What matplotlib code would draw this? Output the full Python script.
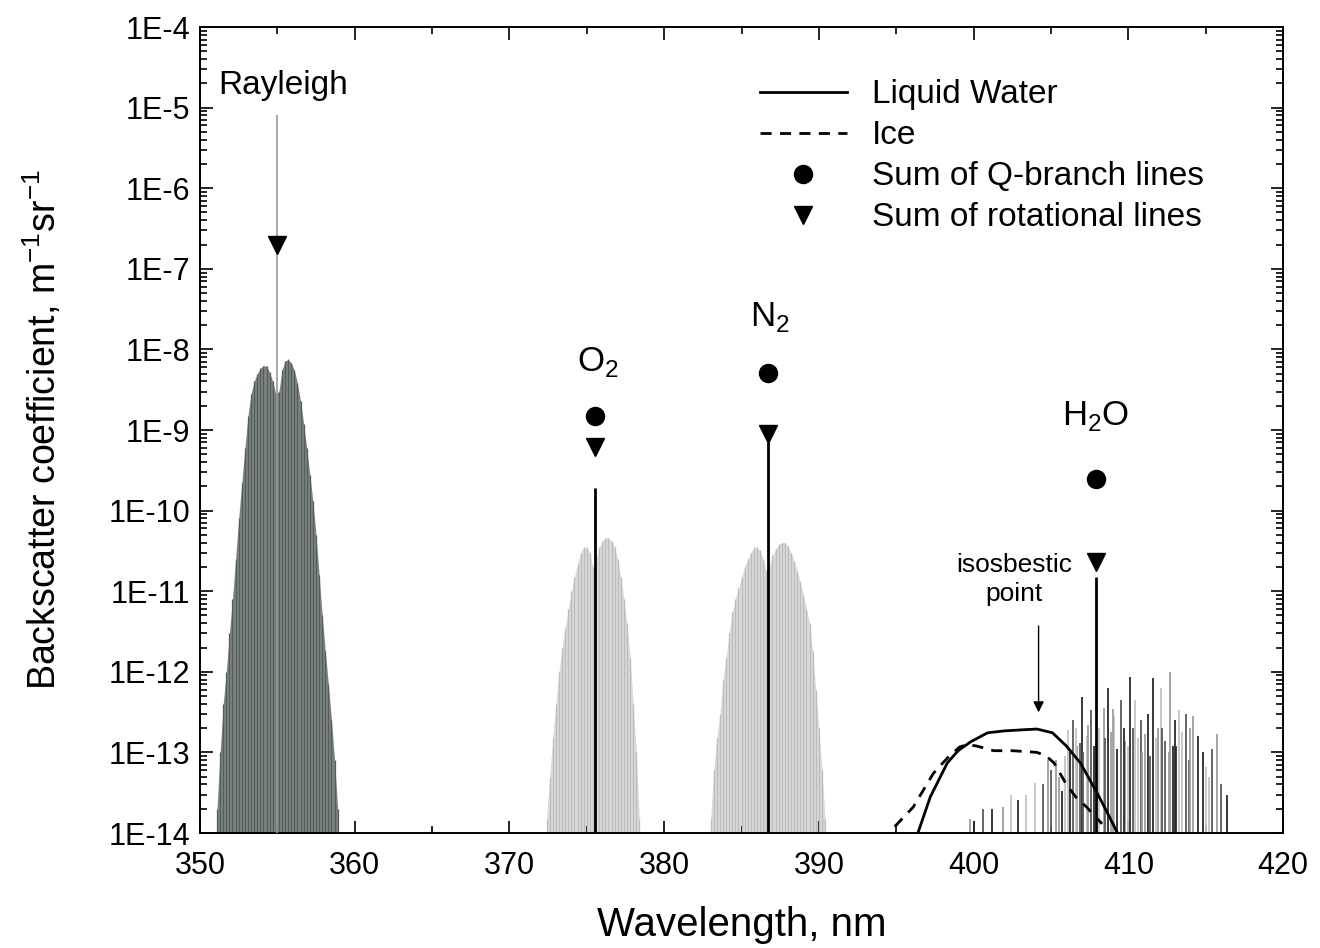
import numpy as np
import matplotlib
matplotlib.use("Agg")
import matplotlib.pyplot as plt
from matplotlib.ticker import MultipleLocator, FuncFormatter, LogLocator, NullFormatter

plt.rcParams['font.family'] = ['Liberation Sans', 'DejaVu Sans']
plt.rcParams['mathtext.fontset'] = 'custom'
plt.rcParams['mathtext.rm'] = 'Liberation Sans'

# rotational Raman lines, Rayleigh band (nm, m-1 sr-1)
ray_wl = [351.1, 351.3, 351.5, 351.7, 351.9, 352.1, 352.3, 352.5, 352.7, 352.9,
          353.1, 353.3, 353.5, 353.7, 353.9, 354.1, 354.3, 354.5, 354.7, 354.9,
          355.1, 355.3, 355.5, 355.7, 355.9, 356.1, 356.3, 356.5, 356.7, 356.9,
          357.1, 357.3, 357.5, 357.7, 357.9, 358.1, 358.3, 358.5, 358.7, 358.9]
ray_val = [2e-14, 1e-13, 4e-13, 1e-12, 3e-12, 8e-12, 2.5e-11, 8e-11, 2.2e-10, 6e-10,
           1.5e-9, 2.8e-9, 4e-9, 5e-9, 5.8e-9, 6.3e-9, 6.2e-9, 5.2e-9, 4e-9, 2.8e-9,
           3e-9, 5.5e-9, 7.2e-9, 7.5e-9, 6.8e-9, 5.5e-9, 3.8e-9, 2.3e-9, 1.2e-9, 6e-10,
           2.8e-10, 1.3e-10, 5e-11, 1.6e-11, 5e-12, 1.8e-12, 7e-13, 2.5e-13, 8e-14, 2e-14]

# O2 vibrational-rotational band
o2_wl = [372.4, 372.6, 372.8, 373.0, 373.2, 373.4, 373.6, 373.8, 374.0, 374.2,
         374.4, 374.6, 374.8, 375.0, 375.2, 375.4, 375.6, 375.8, 376.0, 376.2,
         376.4, 376.6, 376.8, 377.0, 377.2, 377.4, 377.6, 377.8, 378.0, 378.2, 378.4]
o2_val = [1.5e-14, 5e-14, 1.5e-13, 4e-13, 1e-12, 2e-12, 3.5e-12, 6e-12, 1e-11, 1.5e-11,
          2.2e-11, 3e-11, 3.5e-11, 3.5e-11, 3e-11, 2e-11, 2.5e-11, 3.5e-11, 4.2e-11, 4.6e-11,
          4.6e-11, 4.2e-11, 3.5e-11, 2.5e-11, 1.5e-11, 8e-12, 4e-12, 1.5e-12, 4e-13, 1e-13, 1.5e-14]

# N2 vibrational-rotational band
n2_wl = [383.0, 383.2, 383.4, 383.6, 383.8, 384.0, 384.2, 384.4, 384.6, 384.8,
         385.0, 385.2, 385.4, 385.6, 385.8, 386.0, 386.2, 386.4, 386.6, 386.8,
         387.0, 387.2, 387.4, 387.6, 387.8, 388.0, 388.2, 388.4, 388.6, 388.8,
         389.0, 389.2, 389.4, 389.6, 389.8, 390.0, 390.2, 390.4]
n2_val = [1.5e-14, 6e-14, 1.5e-13, 3e-13, 8e-13, 1.5e-12, 3e-12, 5.5e-12, 8e-12, 1.1e-11,
          1.5e-11, 2e-11, 2.5e-11, 3e-11, 3.5e-11, 3.5e-11, 3.2e-11, 2.5e-11, 1.8e-11, 2e-11,
          2.8e-11, 3.3e-11, 3.8e-11, 4e-11, 4e-11, 3.6e-11, 3e-11, 2.4e-11, 1.8e-11, 1.3e-11,
          9e-12, 6e-12, 4e-12, 1.8e-12, 6e-13, 2e-13, 6e-14, 1.5e-14]

# H2O rotational lines
h2o_wl = [401.9, 402.9, 404.0, 405.0, 405.3, 405.7, 406.1, 406.4, 406.7, 407.0,
          407.3, 407.6, 408.4, 408.7, 409.1, 409.5, 409.8, 410.1, 410.4, 410.8,
          411.1, 411.6, 412.1, 412.4, 412.7, 413.0, 413.3, 413.7, 414.2, 414.5,
          415.0, 415.4, 415.7, 416.4, 405.9, 406.9, 408.9, 409.3, 410.6, 411.4,
          411.9, 412.9, 403.4, 400.6, 405.5, 406.2, 406.6, 407.1, 407.4, 407.8,
          408.1, 408.5, 409.0, 409.7, 410.0, 410.3, 410.9, 411.3, 411.8, 412.2,
          412.6, 413.1, 413.5, 413.9, 414.0, 414.8, 415.2, 416.0, 399.8, 401.2,
          402.4, 404.5, 404.8]
h2o_val = [2.1e-14, 2.6e-14, 4.2e-14, 6e-14, 8e-14, 3.3e-14, 1.9e-13, 2.5e-13, 1.2e-13, 4.9e-13,
           1.6e-13, 3.4e-13, 3.6e-13, 6.3e-13, 2.8e-13, 4.5e-13, 1.4e-13, 8.7e-13, 4.5e-13, 2.5e-13,
           1.7e-13, 8.3e-13, 6.3e-13, 1.4e-13, 1e-12, 2.5e-13, 3.4e-13, 3e-13, 2.8e-13, 1.6e-13,
           6.6e-14, 1.1e-13, 1.7e-13, 3e-14, 9e-14, 1.3e-13, 1.8e-13, 1.1e-13, 1.5e-13, 9e-14,
           2e-13, 1.2e-13, 3e-14, 2e-14, 5e-14, 1e-13, 2e-13, 1e-13, 2.2e-13, 1.2e-13,
           2e-13, 1.5e-13, 3.5e-13, 2e-13, 1.2e-13, 2e-13, 1e-13, 3e-13, 1.5e-13, 2e-13,
           1e-13, 1.2e-13, 1.8e-13, 8e-14, 2e-13, 1e-13, 5e-14, 4e-14, 1.5e-14, 2e-14,
           3e-14, 4e-14, 8e-14]

# Q-branch lines
q_wl = [375.5, 386.7, 407.9]
q_val = [1.9e-10, 7e-10, 1.5e-11]
q_sum = [1.5e-9, 5.1e-9, 2.5e-10]

# sums of rotational lines
rot_wl = [355.0, 375.5, 386.7, 407.9]
rot_sum = [2e-7, 6.2e-10, 9e-10, 2.3e-11]

# Rayleigh line
ray_line_top = 8e-6

# condensed water
liq_wl = [396.4, 397.2, 398.3, 399.0, 399.8, 400.9, 402.0, 403.0, 404.1, 405.1,
          406.0, 406.9, 408.0, 408.7, 409.3]
liq_val = [1e-14, 2.8e-14, 7.4e-14, 1.05e-13, 1.35e-13, 1.75e-13, 1.85e-13, 1.9e-13, 1.95e-13, 1.75e-13,
           1.2e-13, 7.4e-14, 3.1e-14, 1.7e-14, 1e-14]
ice_wl = [394.9, 396.1, 397.4, 398.3, 399.1, 399.6, 400.2, 401.3, 402.5, 403.5,
          404.1, 404.7, 405.2, 406.0, 406.6, 407.3, 408.3]
ice_val = [1.2e-14, 2.1e-14, 5.5e-14, 8.5e-14, 1.17e-13, 1.25e-13, 1.2e-13, 1.05e-13, 1.05e-13, 1.02e-13,
           1.0e-13, 9e-14, 7.4e-14, 4e-14, 2.8e-14, 2.1e-14, 1.3e-14]

ymin, ymax = 1e-14, 1e-4

fig = plt.figure(figsize=(13.2, 9.48), dpi=100)
ax = fig.add_axes([0.1515, 0.1213, 0.8205, 0.8502])
ax.set_yscale('log')

# bands
ax.fill_between(ray_wl, ymin, ray_val, color='#7b8381', lw=0, zorder=1)
ax.vlines(ray_wl, ymin, ray_val, colors='#555d5c', lw=0.9, zorder=2)
for wl, val in [(o2_wl, o2_val), (n2_wl, n2_val)]:
    ax.fill_between(wl, ymin, val, color='#d9d9d9', lw=0, zorder=1)
    ax.vlines(wl, ymin, val, colors='#bcbcbc', lw=0.9, zorder=2)

shades = ['#9e9e9e', '#2a2a2a', '#c4c4c4', '#5a5a5a']
h2o_cols = [shades[i % 4] for i in range(len(h2o_wl))]
ax.vlines(h2o_wl, ymin, h2o_val, colors=h2o_cols, lw=1.3, zorder=2)

# Rayleigh and Q lines
ax.vlines([rot_wl[0]], ymin, ray_line_top, colors='#9a9a9a', lw=1.2, zorder=3)
ax.vlines(q_wl, ymin, q_val, colors='k', lw=2.0, zorder=3)

ax.plot(liq_wl, liq_val, '-', color='k', lw=2, label='Liquid Water', zorder=4)
ax.plot(ice_wl, ice_val, '--', color='k', lw=2, dashes=(4, 3), label='Ice', zorder=4)
ax.plot(q_wl, q_sum, 'o', color='k', ms=13, ls='none', label='Sum of Q-branch lines', zorder=5)
ax.plot(rot_wl, rot_sum, 'v', color='k', ms=13, ls='none', label='Sum of rotational lines', zorder=5)

ax.set_xlim(350, 420)
ax.set_ylim(ymin, ymax)

ax.xaxis.set_major_locator(MultipleLocator(10))
ax.xaxis.set_minor_locator(MultipleLocator(5))
ax.yaxis.set_major_locator(LogLocator(base=10, numticks=20))
ax.yaxis.set_minor_locator(LogLocator(base=10, subs=np.arange(2, 10), numticks=20))
ax.yaxis.set_minor_formatter(NullFormatter())
ax.yaxis.set_major_formatter(FuncFormatter(lambda v, p: '1E%d' % round(np.log10(v))))
ax.tick_params(which='both', direction='in', top=True, right=True, labelsize=22, width=1.2)
ax.tick_params(which='major', length=9)
ax.tick_params(which='minor', length=5)
ax.tick_params(axis='x', which='major', pad=13)
ax.tick_params(axis='y', which='major', pad=7)
for s in ax.spines.values():
    s.set_linewidth(1.4)

ax.set_xlabel('Wavelength, nm', fontsize=29, labelpad=18)
ax.set_ylabel('Backscatter coefficient, m$^{-1}$sr$^{-1}$', fontsize=27, labelpad=32)

ax.text(351.2, 1.9e-5, 'Rayleigh', fontsize=24, ha='left', va='center')
ax.text(375.7, 6.9e-9, 'O$_2$', fontsize=25, ha='center', va='center')
ax.text(386.8, 2.5e-8, 'N$_2$', fontsize=25, ha='center', va='center')
ax.text(407.9, 1.5e-9, 'H$_2$O', fontsize=25, ha='center', va='center')
ax.text(402.6, 1.4e-11, 'isosbestic\npoint', fontsize=19, ha='center', va='center',
        linespacing=1.25)
ax.annotate('', xy=(404.2, 2.9e-13), xytext=(404.2, 4.0e-12),
            arrowprops=dict(arrowstyle='-|>', color='k', lw=1.0, mutation_scale=16))

ax.legend(loc='upper left', bbox_to_anchor=(0.517, 0.935), frameon=False, fontsize=24,
          handlelength=2.6, labelspacing=0.3, handletextpad=0.75, borderpad=0, borderaxespad=0)

fig.savefig('out.png', dpi=100)
